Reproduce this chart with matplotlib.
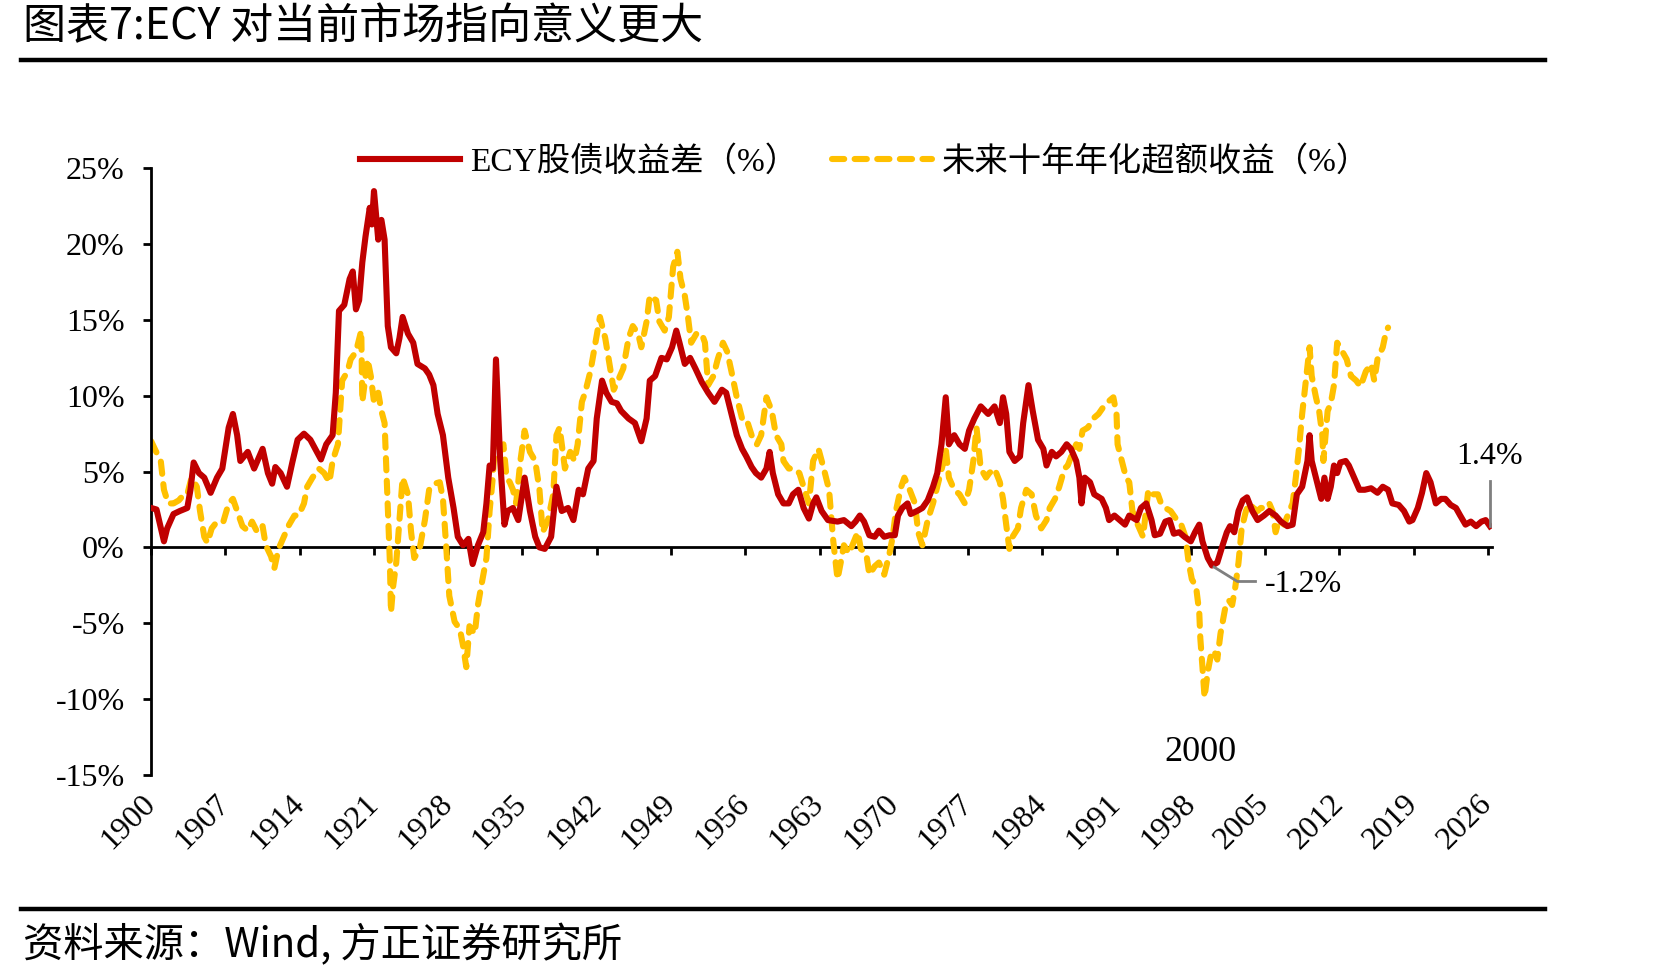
import matplotlib.pyplot as plt
from matplotlib.lines import Line2D
from matplotlib.ticker import FuncFormatter

# ECY 股债收益差 (%)
ecy_year = [1900.0, 1900.5, 1901.2, 1901.5, 1902.1, 1902.7, 1903.4, 1903.7, 1904.0, 1904.5,
            1905.0, 1905.6, 1906.2, 1906.7, 1907.3, 1907.7, 1908.1, 1908.4, 1909.1, 1909.7,
            1910.5, 1911.0, 1911.4, 1911.7, 1912.2, 1912.8, 1913.3, 1913.8, 1914.4, 1915.0,
            1916.0, 1916.5, 1917.1, 1917.4, 1917.7, 1918.2, 1918.7, 1919.0, 1919.3, 1919.6,
            1919.9, 1920.2, 1920.6, 1920.8, 1921.0, 1921.4, 1921.7, 1922.0, 1922.3, 1922.6,
            1923.1, 1923.4, 1923.7, 1924.2, 1924.7, 1925.1, 1925.8, 1926.2, 1926.6, 1927.0,
            1927.5, 1928.0, 1928.5, 1928.9, 1929.4, 1929.9, 1930.3, 1930.8, 1931.3, 1931.6,
            1931.9, 1932.2, 1932.5, 1932.9, 1933.3, 1933.6, 1934.1, 1934.6, 1935.2, 1935.7,
            1936.2, 1936.6, 1937.1, 1937.7, 1938.2, 1938.7, 1939.3, 1939.8, 1940.3, 1940.7,
            1941.2, 1941.7, 1942.0, 1942.5, 1942.9, 1943.4, 1943.9, 1944.3, 1945.0, 1945.6,
            1946.2, 1946.7, 1947.0, 1947.5, 1948.1, 1948.6, 1949.1, 1949.5, 1949.8, 1950.3,
            1950.8, 1951.3, 1951.9, 1952.5, 1953.1, 1953.8, 1954.2, 1954.7, 1955.2, 1955.7,
            1956.1, 1956.6, 1957.0, 1957.5, 1958.0, 1958.3, 1958.6, 1959.1, 1959.6, 1960.1,
            1960.5, 1961.0, 1961.5, 1962.0, 1962.4, 1962.7, 1963.2, 1963.8, 1964.7, 1965.3,
            1966.0, 1966.4, 1966.8, 1967.2, 1967.7, 1968.2, 1968.6, 1969.1, 1969.6, 1970.1,
            1970.4, 1970.8, 1971.3, 1971.6, 1972.2, 1972.7, 1973.2, 1973.7, 1974.1, 1974.5,
            1974.9, 1975.2, 1975.7, 1976.2, 1976.7, 1977.1, 1977.6, 1978.2, 1978.9, 1979.5,
            1980.0, 1980.3, 1980.6, 1980.9, 1981.4, 1981.9, 1982.2, 1982.7, 1983.1, 1983.6,
            1984.1, 1984.4, 1984.9, 1985.3, 1985.8, 1986.3, 1986.7, 1987.2, 1987.5, 1987.7,
            1988.0, 1988.5, 1988.9, 1989.6, 1990.0, 1990.3, 1990.8, 1991.3, 1991.8, 1992.2,
            1992.9, 1993.3, 1993.8, 1994.3, 1994.6, 1995.1, 1995.6, 1996.0, 1996.4, 1996.9,
            1997.4, 1998.0, 1998.4, 1998.8, 1999.1, 1999.6, 2000.0, 2000.5, 2001.0, 2001.4,
            2001.7, 2002.1, 2002.5, 2002.9, 2003.3, 2003.8, 2004.3, 2004.9, 2005.4, 2006.0,
            2006.5, 2007.1, 2007.6, 2008.0, 2008.5, 2009.0, 2009.2, 2009.4, 2009.8, 2010.3,
            2010.6, 2010.9, 2011.2, 2011.5, 2011.8, 2012.1, 2012.6, 2012.9, 2013.4, 2013.9,
            2014.4, 2015.0, 2015.6, 2016.1, 2016.6, 2017.0, 2017.6, 2018.1, 2018.6, 2018.9,
            2019.4, 2019.8, 2020.2, 2020.6, 2021.1, 2021.6, 2022.0, 2022.5, 2023.0, 2023.4,
            2023.9, 2024.4, 2024.9, 2025.4, 2025.8, 2026.2]
ecy_value = [2.6, 2.5, 0.4, 1.25, 2.2, 2.4, 2.6, 3.8, 5.6, 4.9,
             4.6, 3.6, 4.6, 5.2, 7.9, 8.8, 7.4, 5.7, 6.3, 5.2,
             6.5, 4.9, 4.2, 5.3, 4.9, 4.0, 5.6, 7.1, 7.5, 7.1,
             5.8, 6.8, 7.4, 10.2, 15.6, 16.0, 17.7, 18.2, 15.7, 16.3,
             18.8, 20.5, 22.4, 21.3, 23.5, 20.3, 21.6, 20.3, 14.6, 13.2,
             12.8, 13.8, 15.2, 14.1, 13.5, 12.1, 11.8, 11.4, 10.7, 8.8,
             7.4, 4.6, 2.6, 0.7, 0.14, 0.56, -1.1, 0.14, 1.0, 2.9,
             5.4, 5.2, 12.4, 5.7, 1.5, 2.4, 2.6, 1.8, 4.6, 2.4,
             0.7, 0.0, -0.1, 0.7, 4.0, 2.4, 2.6, 1.8, 3.8, 3.5,
             5.2, 5.7, 8.5, 11.0, 10.2, 9.6, 9.5, 9.0, 8.5, 8.2,
             7.0, 8.5, 11.0, 11.3, 12.5, 12.4, 13.2, 14.3, 13.5, 12.1,
             12.5, 11.8, 10.9, 10.2, 9.6, 10.4, 10.2, 8.8, 7.4, 6.5,
             6.0, 5.3, 4.9, 4.6, 5.2, 6.3, 4.9, 3.5, 2.9, 2.9,
             3.5, 3.8, 2.6, 1.9, 2.9, 3.3, 2.4, 1.8, 1.7, 1.8,
             1.4, 1.7, 2.1, 1.7, 0.8, 0.7, 1.1, 0.7, 0.8, 0.8,
             2.1, 2.6, 2.9, 2.2, 2.4, 2.6, 3.1, 4.0, 4.9, 6.8,
             9.9, 6.8, 7.4, 6.8, 6.5, 7.7, 8.5, 9.3, 8.8, 9.3,
             8.2, 9.9, 8.8, 6.3, 5.7, 6.0, 8.2, 10.7, 9.0, 7.1,
             6.5, 5.4, 6.3, 6.0, 6.3, 6.8, 6.5, 5.7, 4.6, 2.9,
             4.6, 4.3, 3.5, 3.2, 2.6, 1.8, 2.1, 1.8, 1.5, 2.1,
             1.8, 2.6, 2.9, 1.8, 0.8, 0.9, 1.7, 1.8, 0.9, 1.0,
             0.7, 0.4, 1.0, 1.5, 0.4, -0.7, -1.2, -1.0, 0.14, 1.0,
             1.4, 1.0, 2.4, 3.1, 3.3, 2.4, 1.8, 2.1, 2.4, 2.1,
             1.7, 1.4, 1.5, 3.5, 4.0, 5.7, 7.4, 5.7, 4.6, 3.2,
             4.6, 3.2, 4.0, 5.4, 4.9, 5.6, 5.7, 5.4, 4.6, 3.8,
             3.8, 3.9, 3.6, 4.0, 3.8, 2.9, 2.8, 2.4, 1.7, 1.8,
             2.6, 3.6, 4.9, 4.3, 2.9, 3.2, 3.2, 2.8, 2.6, 2.1,
             1.5, 1.7, 1.4, 1.7, 1.8, 1.4]

# 未来十年年化超额收益 (%)
exc_year = [1900.0, 1900.4, 1900.9, 1901.2, 1901.6, 1902.1, 1902.6, 1903.1, 1903.4, 1903.8,
            1904.3, 1904.6, 1905.0, 1905.3, 1905.7, 1906.2, 1906.8, 1907.3, 1907.7, 1908.1,
            1908.6, 1909.1, 1909.5, 1910.0, 1910.5, 1910.8, 1911.3, 1911.6, 1912.0, 1912.5,
            1913.0, 1913.5, 1913.9, 1914.4, 1914.7, 1915.2, 1915.8, 1916.3, 1916.8, 1917.1,
            1917.6, 1918.0, 1918.5, 1918.8, 1919.3, 1919.8, 1919.9, 1920.4, 1920.7, 1921.0,
            1921.4, 1921.7, 1922.0, 1922.3, 1922.5, 1922.6, 1922.8, 1923.1, 1923.4, 1923.7,
            1924.2, 1924.5, 1924.8, 1925.3, 1925.8, 1926.2, 1926.7, 1927.2, 1927.5, 1927.8,
            1928.1, 1928.6, 1929.1, 1929.4, 1929.7, 1930.0, 1930.5, 1930.8, 1931.1, 1931.6,
            1931.9, 1932.2, 1932.5, 1932.9, 1933.2, 1933.5, 1933.8, 1934.1, 1934.4, 1934.8,
            1935.2, 1935.7, 1936.2, 1936.6, 1936.9, 1937.4, 1937.9, 1938.2, 1938.5, 1939.0,
            1939.5, 1939.9, 1940.2, 1940.6, 1940.9, 1941.4, 1941.8, 1942.3, 1942.8, 1943.2,
            1943.6, 1944.0, 1944.5, 1945.0, 1945.4, 1945.9, 1946.2, 1946.7, 1947.0, 1947.6,
            1947.9, 1948.4, 1948.8, 1949.2, 1949.6, 1949.9, 1950.3, 1950.6, 1950.9, 1951.4,
            1951.9, 1952.2, 1952.5, 1953.0, 1953.4, 1953.9, 1954.3, 1954.7, 1955.2, 1955.7,
            1956.1, 1956.6, 1957.1, 1957.5, 1958.0, 1958.5, 1958.9, 1959.4, 1959.6, 1960.1,
            1960.6, 1961.1, 1961.5, 1962.0, 1962.4, 1962.9, 1963.4, 1963.9, 1964.3, 1964.7,
            1965.0, 1965.3, 1965.8, 1966.1, 1966.6, 1966.9, 1967.4, 1967.7, 1968.2, 1968.6,
            1969.1, 1969.6, 1969.9, 1970.2, 1970.7, 1971.0, 1971.5, 1972.0, 1972.3, 1972.7,
            1973.2, 1973.7, 1974.1, 1974.6, 1974.9, 1975.2, 1975.7, 1976.2, 1976.7, 1977.1,
            1977.5, 1977.8, 1978.2, 1978.7, 1979.0, 1979.5, 1980.0, 1980.3, 1980.6, 1980.9,
            1981.2, 1981.7, 1982.0, 1982.5, 1983.0, 1983.4, 1983.9, 1984.4, 1984.7, 1985.2,
            1985.6, 1986.1, 1986.4, 1986.9, 1987.2, 1987.5, 1987.8, 1988.3, 1988.8, 1989.3,
            1989.7, 1990.2, 1990.7, 1991.0, 1991.1, 1991.5, 1991.9, 1992.2, 1992.5, 1993.0,
            1993.5, 1994.0, 1994.4, 1994.9, 1995.2, 1995.6, 1996.1, 1996.6, 1997.0, 1997.5,
            1997.8, 1998.1, 1998.5, 1998.8, 1998.9, 1999.1, 1999.3, 1999.6, 1999.9, 2000.2,
            2000.5, 2000.8, 2001.3, 2001.6, 2001.9, 2002.2, 2002.5, 2002.8, 2003.2, 2003.5,
            2003.9, 2004.3, 2004.6, 2005.1, 2005.4, 2005.7, 2006.0, 2006.3, 2006.8, 2007.3,
            2007.6, 2007.9, 2008.2, 2008.5, 2008.8, 2009.2, 2009.4, 2009.8, 2010.1, 2010.4,
            2010.5, 2010.9, 2011.2, 2011.5, 2011.8, 2012.3, 2012.7, 2013.1, 2013.6, 2014.0,
            2014.5, 2015.0, 2015.3, 2015.6, 2016.1, 2016.4, 2016.6]
exc_value = [7.0, 6.4, 5.7, 3.8, 2.9, 2.9, 3.1, 3.5, 3.5, 4.6,
             4.0, 2.4, 0.7, 0.3, 1.25, 1.7, 1.7, 2.9, 3.2, 2.4,
             1.4, 1.1, 1.7, 1.0, 1.4, 0.14, -0.6, -1.4, -0.1, 0.7,
             1.5, 2.1, 2.1, 2.9, 4.0, 4.6, 5.2, 4.9, 4.3, 5.7,
             6.8, 11.0, 11.6, 12.4, 12.9, 14.3, 9.6, 12.4, 11.3, 9.6,
             10.2, 9.0, 8.2, 2.6, -1.0, -4.3, -2.6, -1.0, 1.8, 4.6,
             3.5, 1.0, -0.7, -0.1, 1.8, 3.8, 4.2, 4.3, 3.2, 0.14,
             -3.2, -4.9, -5.4, -6.5, -7.9, -5.2, -5.7, -3.8, -2.6, -0.7,
             2.4, 4.6, 7.9, 6.3, 6.8, 4.6, 4.3, 3.8, 2.9, 5.7,
             7.7, 6.3, 5.7, 3.8, 1.0, 1.8, 3.5, 7.4, 7.9, 5.2,
             6.3, 5.7, 6.8, 9.6, 10.2, 11.6, 13.2, 15.2, 13.8, 12.1,
             10.4, 11.0, 11.8, 13.8, 14.6, 14.1, 13.2, 14.9, 16.6, 16.3,
             14.9, 14.3, 15.2, 18.5, 19.5, 17.7, 16.6, 15.2, 13.5, 14.1,
             14.1, 13.5, 10.7, 11.3, 12.4, 13.5, 12.9, 11.6, 9.9, 8.5,
             8.5, 7.4, 6.8, 7.4, 9.9, 9.0, 7.4, 6.8, 5.7, 5.2,
             5.2, 4.9, 4.0, 2.9, 5.7, 6.5, 5.2, 3.8, 0.4, -2.1,
             -1.0, 0.14, -0.4, 0.14, 1.0, -0.1, -0.4, -1.8, -1.25, -1.0,
             -1.8, -0.4, 0.7, 2.4, 4.0, 4.6, 3.8, 2.9, 1.0, 0.14,
             1.8, 2.9, 4.0, 5.4, 6.5, 4.6, 3.8, 3.5, 2.9, 3.8,
             5.7, 7.9, 5.2, 4.6, 4.9, 5.2, 4.3, 3.2, 1.5, -0.1,
             0.7, 1.25, 2.6, 3.8, 3.5, 2.1, 1.25, 1.8, 2.6, 3.2,
             4.0, 5.2, 5.4, 6.3, 6.8, 6.5, 7.7, 7.9, 8.5, 8.8,
             9.2, 9.6, 9.9, 8.8, 6.8, 5.7, 4.6, 4.3, 2.4, 1.5,
             0.7, 3.8, 3.5, 3.5, 2.9, 2.6, 2.4, 1.9, 1.7, 0.7,
             -1.0, -2.1, -2.6, -4.3, -6.0, -7.9, -9.9, -8.2, -7.1, -6.8,
             -7.4, -5.7, -3.8, -3.5, -3.8, -2.6, -1.0, 1.25, 2.4, 2.9,
             2.6, 2.4, 2.6, 2.6, 2.9, 2.4, 1.0, 1.8, 1.5, 2.4,
             2.9, 4.6, 6.5, 8.8, 10.7, 13.2, 11.3, 9.9, 9.0, 7.4,
             5.7, 9.0, 9.5, 10.7, 13.5, 12.9, 12.4, 11.3, 11.0, 10.6,
             11.6, 12.1, 11.0, 12.4, 13.2, 14.2, 14.5]

x_ticks = list(range(1900, 2027, 7))
y_ticks = list(range(-15, 26, 5))

red = '#C00000'
gold = '#FFC000'
serif = ['Liberation Serif', 'Noto Sans CJK SC']
cjk = ['Noto Sans CJK SC', 'DejaVu Sans']

fig = plt.figure(figsize=(16.71, 9.80), dpi=100)
ax = fig.add_axes([0.0905, 0.2094, 0.8024, 0.6188])

ax.plot(ecy_year, ecy_value, color=red, lw=4.4, solid_joinstyle='round',
        label='ECY股债收益差（%）', zorder=3)
ax.plot(exc_year, exc_value, color=gold, lw=4.4, linestyle=(0, (2.0, 1.7)),
        dash_capstyle='round', label='未来十年年化超额收益（%）', zorder=2)

ax.set_xlim(1900, 2026.4)
ax.set_ylim(-15, 25)

for s in ['top', 'right']:
    ax.spines[s].set_visible(False)
ax.spines['left'].set_linewidth(2)
ax.spines['bottom'].set_linewidth(2)
ax.spines['bottom'].set_position(('data', 0))
ax.spines['bottom'].set_zorder(1)

ax.set_yticks(y_ticks)
ax.yaxis.set_major_formatter(FuncFormatter(lambda v, p: f'{v:.0f}%'))
ax.tick_params(axis='y', direction='out', length=6, width=2, pad=13)
for lab in ax.get_yticklabels():
    lab.set_fontfamily(serif)
    lab.set_fontsize(23)

ax.set_xticks(x_ticks)
ax.tick_params(axis='x', direction='out', length=6, width=2, labelbottom=False)

# 年份标签放在图底部
sec = ax.secondary_xaxis(0.0)
sec.set_xticks(x_ticks)
sec.spines['bottom'].set_visible(False)
sec.tick_params(length=0, pad=18)
for lab in sec.get_xticklabels():
    lab.set_fontfamily(serif)
    lab.set_fontsize(23)
    lab.set_rotation(45)
    lab.set_ha('right')
    lab.set_va('center')
    lab.set_rotation_mode('anchor')

# 标注
ax.plot([2026.2, 2026.2], [1.4, 4.4], color='#7F7F7F', lw=2, zorder=4)
ax.text(2026.2, 6.0, '1.4%', fontsize=23, family=serif, ha='center', va='center')
ax.plot([2000.2, 2002.4, 2004.1], [-1.3, -2.25, -2.25], color='#7F7F7F', lw=2, zorder=4)
ax.text(2005.0, -2.42, '-1.2%', fontsize=23, family=serif, ha='left', va='center')
ax.text(1998.9, -13.5, '2000', fontsize=26, family=serif, ha='center', va='center')

fig.legend(loc='center left', bbox_to_anchor=(0.2155, 0.8345), ncol=2, frameon=False,
           prop={'family': serif, 'size': 24}, handlelength=3.0, handletextpad=0.3,
           columnspacing=1.0, borderpad=0, borderaxespad=0)

# 标题与来源
fig.text(0.0138, 0.9724, '图表7:ECY 对当前市场指向意义更大', fontsize=31,
         family=cjk, ha='left', va='center')
fig.add_artist(Line2D([0.0126, 0.9246], [0.939, 0.939], color='black', lw=3.2))
fig.add_artist(Line2D([0.0126, 0.9246], [0.0724, 0.0724], color='black', lw=3.2))
fig.text(0.0138, 0.0357, '资料来源：Wind, 方正证券研究所', fontsize=29,
         family=cjk, ha='left', va='center', style='italic')

fig.savefig('out.png', dpi=100)
